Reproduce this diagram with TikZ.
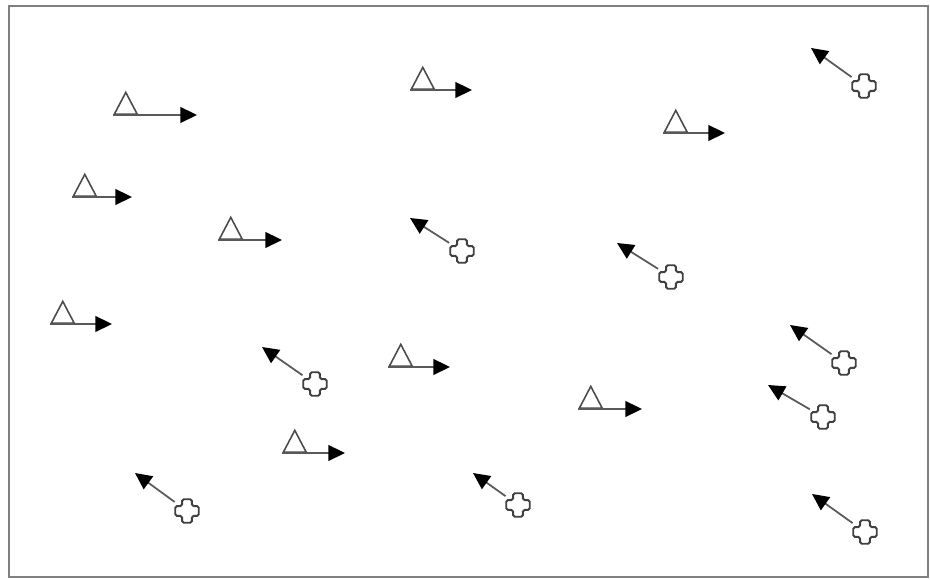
\documentclass[tikz,border=0pt]{standalone}
\usepackage{tikz}
\usetikzlibrary{shapes.geometric, arrows.meta}

\begin{document}
\begin{tikzpicture}[x=0.02cm, y=-0.02cm, >={Triangle[length=9.5pt, width=9pt, color=black]},
    tri/.style={draw=black!70, line width=0.9pt, fill=white, regular polygon, regular polygon sides=3,
        minimum size=15pt, yscale=1.1, inner sep=0pt, anchor=corner 2},
    plusmark/.style={circle, minimum size=17pt, inner sep=0pt,
        path picture={\draw[black!75, line width=1.1pt, rounded corners=1pt, shift={(path picture bounding box.center)}]
            (-2.8pt,-6.7pt) -- (2.8pt,-6.7pt) -- (2.8pt,-2.8pt) -- (6.7pt,-2.8pt) -- (6.7pt,2.8pt) -- (2.8pt,2.8pt)
            -- (2.8pt,6.7pt) -- (-2.8pt,6.7pt) -- (-2.8pt,2.8pt) -- (-6.7pt,2.8pt) -- (-6.7pt,-2.8pt) -- (-2.8pt,-2.8pt) -- cycle;}},
    move/.style={->, draw=black!65, line width=1pt}]
    \useasboundingbox (0,0) rectangle (930,580);
    \draw[black!50, line width=1.3pt] (9,6) rectangle (928,577);

    % triangles moving right
    \node[tri] (t1) at (113,115) {};
    \node[tri] (t2) at (410,90) {};
    \node[tri] (t3) at (663,133) {};
    \node[tri] (t4) at (72,197) {};
    \node[tri] (t5) at (218,240) {};
    \node[tri] (t6) at (50,324) {};
    \node[tri] (t7) at (388,367) {};
    \node[tri] (t8) at (578,409) {};
    \node[tri] (t9) at (282,453) {};

    \coordinate (t1e) at (197,115);
    \coordinate (t2e) at (472,90);
    \coordinate (t3e) at (725,133);
    \coordinate (t4e) at (132,197);
    \coordinate (t5e) at (282,240);
    \coordinate (t6e) at (112,324);
    \coordinate (t7e) at (450,367);
    \coordinate (t8e) at (642,409);
    \coordinate (t9e) at (345,453);

    \draw[move] (t1.corner 2) -- (t1e);
    \draw[move] (t2.corner 2) -- (t2e);
    \draw[move] (t3.corner 2) -- (t3e);
    \draw[move] (t4.corner 2) -- (t4e);
    \draw[move] (t5.corner 2) -- (t5e);
    \draw[move] (t6.corner 2) -- (t6e);
    \draw[move] (t7.corner 2) -- (t7e);
    \draw[move] (t8.corner 2) -- (t8e);
    \draw[move] (t9.corner 2) -- (t9e);

    % crosses moving up-left
    \node[plusmark] (c1) at (864,86) {};
    \node[plusmark] (c2) at (462,251) {};
    \node[plusmark] (c3) at (671,277) {};
    \node[plusmark] (c4) at (844,363) {};
    \node[plusmark] (c5) at (315,384) {};
    \node[plusmark] (c6) at (823,417) {};
    \node[plusmark] (c7) at (187,511) {};
    \node[plusmark] (c8) at (518,505) {};
    \node[plusmark] (c9) at (865,532) {};

    \coordinate (c1e) at (811,48);
    \coordinate (c2e) at (410,218);
    \coordinate (c3e) at (617,243);
    \coordinate (c4e) at (790,325);
    \coordinate (c5e) at (262,347);
    \coordinate (c6e) at (768,385);
    \coordinate (c7e) at (135,473);
    \coordinate (c8e) at (473,473);
    \coordinate (c9e) at (812,494);

    \draw[move] (c1) -- (c1e);
    \draw[move] (c2) -- (c2e);
    \draw[move] (c3) -- (c3e);
    \draw[move] (c4) -- (c4e);
    \draw[move] (c5) -- (c5e);
    \draw[move] (c6) -- (c6e);
    \draw[move] (c7) -- (c7e);
    \draw[move] (c8) -- (c8e);
    \draw[move] (c9) -- (c9e);
\end{tikzpicture}
\end{document}
